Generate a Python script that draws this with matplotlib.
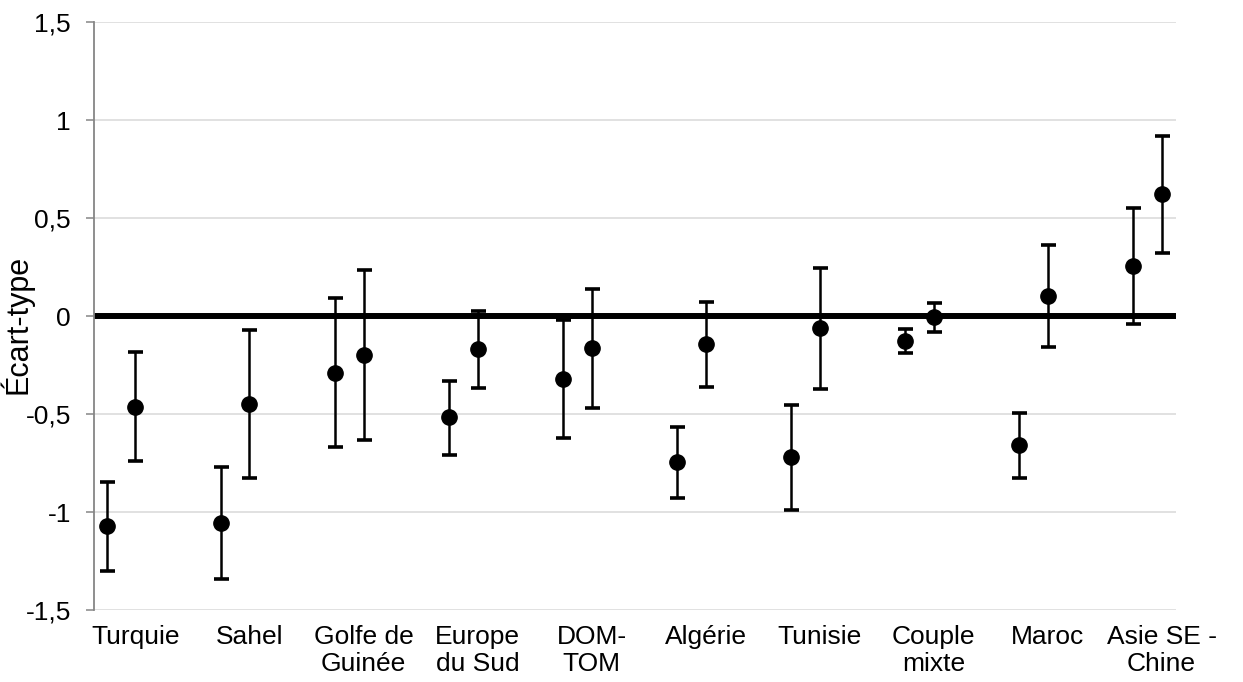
import numpy as np
import matplotlib.pyplot as plt
from matplotlib.ticker import FuncFormatter, MultipleLocator

plt.rcParams['font.family'] = ['Liberation Sans', 'DejaVu Sans']

regions = ['Turquie', 'Sahel', 'Golfe de\nGuinée', 'Europe\ndu Sud', 'DOM-\nTOM',
           'Algérie', 'Tunisie', 'Couple\nmixte', 'Maroc', 'Asie SE -\nChine']

# premier point de chaque paire
val_a = [-1.07, -1.055, -0.289, -0.515, -0.323, -0.745, -0.718, -0.128, -0.66, 0.255]
low_a = [-1.30, -1.342, -0.668, -0.708, -0.622, -0.929, -0.99, -0.19, -0.827, -0.041]
high_a = [-0.845, -0.77, 0.09, -0.33, -0.022, -0.565, -0.454, -0.066, -0.493, 0.55]

# second point de chaque paire
val_b = [-0.463, -0.447, -0.197, -0.17, -0.165, -0.141, -0.063, -0.007, 0.104, 0.621]
low_b = [-0.741, -0.825, -0.631, -0.366, -0.471, -0.36, -0.374, -0.082, -0.158, 0.321]
high_b = [-0.185, -0.071, 0.235, 0.025, 0.139, 0.073, 0.243, 0.065, 0.364, 0.918]

pos = np.arange(len(regions))
shift = 0.25

fig = plt.figure(figsize=(12.43, 6.82), dpi=100)
ax = fig.add_axes([94 / 1243, 1 - 610 / 682, 1082 / 1243, 588 / 682])

ax.axhline(0, color='black', linewidth=4.3, zorder=2)

for x, v, lo, hi in [(pos, val_a, low_a, high_a), (pos + shift, val_b, low_b, high_b)]:
    v = np.array(v)
    err = [v - np.array(lo), np.array(hi) - v]
    ax.errorbar(x, v, yerr=err, fmt='o', color='black', markersize=11,
                elinewidth=1.8, capsize=5.4, capthick=2.6, zorder=3)

ax.set_xlim(-0.114, 9.377)
ax.set_ylim(-1.5, 1.5)
ax.yaxis.set_major_locator(MultipleLocator(0.5))
ax.yaxis.set_major_formatter(FuncFormatter(lambda v, p: f'{v:g}'.replace('.', ',')))
ax.grid(axis='y', color='#d9d9d9', linewidth=1.1, zorder=0)
ax.set_axisbelow(True)

ax.set_xticks(pos + shift)
ax.set_xticklabels(regions, linespacing=1.15)
ax.tick_params(axis='x', length=0, pad=11, labelsize=19)
ax.tick_params(axis='y', length=5.8, width=1.1, color='#868686', pad=10.8, labelsize=19)

for side in ['top', 'right', 'bottom']:
    ax.spines[side].set_visible(False)
ax.spines['left'].set_color('#868686')
ax.spines['left'].set_linewidth(1.3)

ax.set_ylabel('Écart-type', fontsize=22)
ax.yaxis.set_label_coords(-0.056, 0.485)

fig.savefig('out.png', dpi=100)
